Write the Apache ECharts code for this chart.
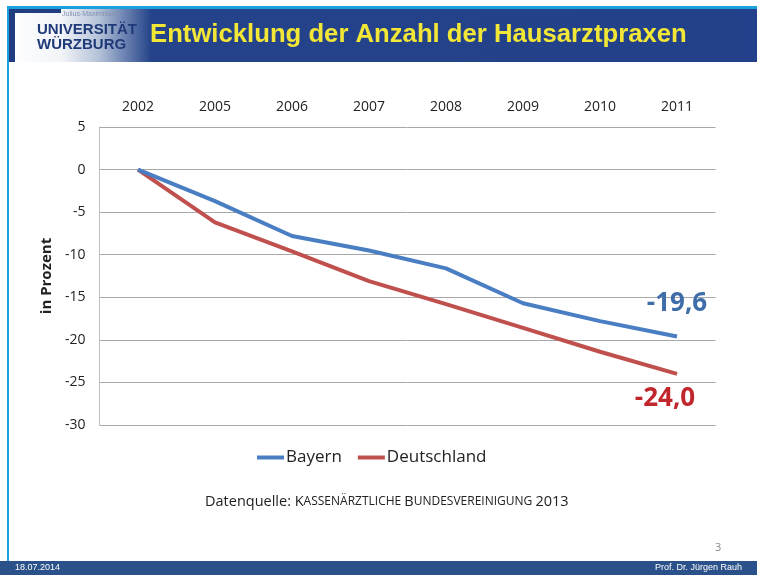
<!DOCTYPE html>
<html>
<head>
<meta charset="utf-8">
<script src="https://cdn.jsdelivr.net/npm/echarts@6/dist/echarts.min.js"></script>
<style>
html, body { margin: 0; padding: 0; background: #fff; }
#chart { width: 757px; height: 575px; }
</style>
</head>
<body>
<div id="chart"></div>
<script>
// Daten (Veränderung in Prozent seit 2002)
var years = ['2002', '2005', '2006', '2007', '2008', '2009', '2010', '2011'];
var bayern = [0, -3.7, -7.8, -9.5, -11.6, -15.7, -17.8, -19.6];
var deutschland = [0, -6.2, -9.6, -13.1, -15.8, -18.6, -21.4, -24.0];
var yTicks = { min: -30, max: 5, step: 5 };

var blue = '#4A7EC3';
var red = '#C0504D';
var font = 'Open Sans';

function fmt(v) {
	return v.toFixed(1).replace('.', ',');
}

// nur der letzte Punkt bekommt ein Label
function withEndLabel(arr, color, pos, dist, offset) {
	return arr.map(function (v, i) {
		if (i !== arr.length - 1) return v;
		return {
			value: v,
			label: {
				show: true,
				position: pos,
				distance: dist,
				offset: offset,
				formatter: function (p) { return fmt(p.value); },
				color: color,
				fontFamily: font,
				fontWeight: 'bold',
				fontSize: 26
			}
		};
	});
}

var chart = echarts.init(document.getElementById('chart'));

var option = {
	backgroundColor: '#fff',
	animation: false,
	grid: { left: 99.5, right: 41.5, top: 127, bottom: 150 },
	legend: {
		left: 252,
		top: 444,
		icon: 'rect',
		itemWidth: 27,
		itemHeight: 4,
		itemGap: 16,
		textStyle: { fontFamily: font, fontSize: 17, color: '#222', padding: [0, 0, 0, -3] },
		data: ['Bayern', 'Deutschland']
	},
	xAxis: {
		type: 'category',
		position: 'top',
		data: years,
		axisLine: { show: false },
		axisTick: { show: false },
		axisLabel: { fontFamily: font, fontSize: 14, color: '#222', margin: 13 }
	},
	yAxis: {
		type: 'value',
		min: yTicks.min,
		max: yTicks.max,
		interval: yTicks.step,
		name: 'in Prozent',
		nameLocation: 'middle',
		nameGap: 44,
		nameTextStyle: { fontFamily: font, fontSize: 15, fontWeight: 'bold', color: '#222' },
		axisLine: { show: true, lineStyle: { color: '#BDBDBD' } },
		axisTick: { show: false },
		axisLabel: { fontFamily: font, fontSize: 14, color: '#222', margin: 14 },
		splitLine: { lineStyle: { color: '#A8A8A8', width: 1 } }
	},
	series: [
		{
			name: 'Bayern',
			type: 'line',
			data: withEndLabel(bayern, '#3E6DAA', 'top', 20, [0, 0]),
			symbol: 'circle',
			symbolSize: 0,
			itemStyle: { color: blue },
			lineStyle: { color: blue, width: 4 },
			z: 3
		},
		{
			name: 'Deutschland',
			type: 'line',
			data: withEndLabel(deutschland, '#C0262C', 'bottom', 12, [-12, 0]),
			symbol: 'circle',
			symbolSize: 0,
			itemStyle: { color: red },
			lineStyle: { color: red, width: 4 },
			z: 2
		}
	],
	graphic: [
		// Kopfzeile
		{ type: 'rect', left: 7, top: 6, shape: { width: 750, height: 3 }, style: { fill: '#1AA0DC' }, silent: true },
		{
			type: 'rect', left: 9, top: 9, shape: { width: 748, height: 53 },
			style: {
				fill: new echarts.graphic.LinearGradient(0, 0, 1, 0, [
					{ offset: 0, color: '#FFFFFF' },
					{ offset: 0.07, color: '#F2F4F8' },
					{ offset: 0.12, color: '#B4C2D8' },
					{ offset: 0.19, color: '#24438A' },
					{ offset: 1, color: '#22418A' }
				])
			},
			silent: true
		},
		{ type: 'rect', left: 9, top: 9, shape: { width: 52, height: 4 }, style: { fill: '#1F3D80' }, silent: true },
		{ type: 'rect', left: 9, top: 9, shape: { width: 6, height: 53 }, style: { fill: '#1F3D80' }, silent: true },
		{ type: 'text', left: 62, top: 11, style: { text: 'Julius-Maximilians-', fontFamily: 'Liberation Sans Narrow, Liberation Sans', fontSize: 7, fill: '#8592B0' }, silent: true },
		{ type: 'text', left: 37, top: 22, style: { text: 'UNIVERSITÄT', fontFamily: 'Liberation Sans Narrow, Liberation Sans', fontWeight: 'bold', fontSize: 15, fill: '#1F3A78' }, silent: true },
		{ type: 'text', left: 37, top: 37, style: { text: 'WÜRZBURG', fontFamily: 'Liberation Sans Narrow, Liberation Sans', fontWeight: 'bold', fontSize: 15, fill: '#1F3A78' }, silent: true },
		{ type: 'text', left: 150, top: 22, style: { text: 'Entwicklung der Anzahl der Hausarztpraxen', fontFamily: 'Liberation Sans', fontWeight: 'bold', fontSize: 25.7, fill: '#F2E636' }, silent: true },
		// linker Rand
		{ type: 'rect', left: 7, top: 6, shape: { width: 2, height: 555 }, style: { fill: '#1AA0DC' }, silent: true },
		// Quelle
		{
			type: 'text', left: 205, top: 494,
			style: {
				rich: {
					n: { fontFamily: font, fontSize: 14.5, fill: '#222' },
					s: { fontFamily: font, fontSize: 12, fill: '#222' }
				},
				text: '{n|Datenquelle: K}{s|ASSENÄRZTLICHE }{n|B}{s|UNDESVEREINIGUNG }{n|2013}'
			},
			silent: true
		},
		// Seitenzahl
		{ type: 'text', left: 715, top: 542, style: { text: '3', fontFamily: font, fontSize: 11, fill: '#8A8A8A' }, silent: true },
		// Fußzeile
		{ type: 'rect', left: 0, top: 561, shape: { width: 757, height: 14 }, style: { fill: '#2A5189' }, silent: true },
		{ type: 'text', left: 15, top: 563, style: { text: '18.07.2014', fontFamily: 'Liberation Sans Narrow, Liberation Sans', fontSize: 9, fill: '#fff' }, silent: true },
		{ type: 'text', right: 15, top: 563, style: { text: 'Prof. Dr. Jürgen Rauh', fontFamily: 'Liberation Sans Narrow, Liberation Sans', fontSize: 9, fill: '#fff' }, silent: true }
	]
};

chart.setOption(option);
</script>
</body>
</html>
